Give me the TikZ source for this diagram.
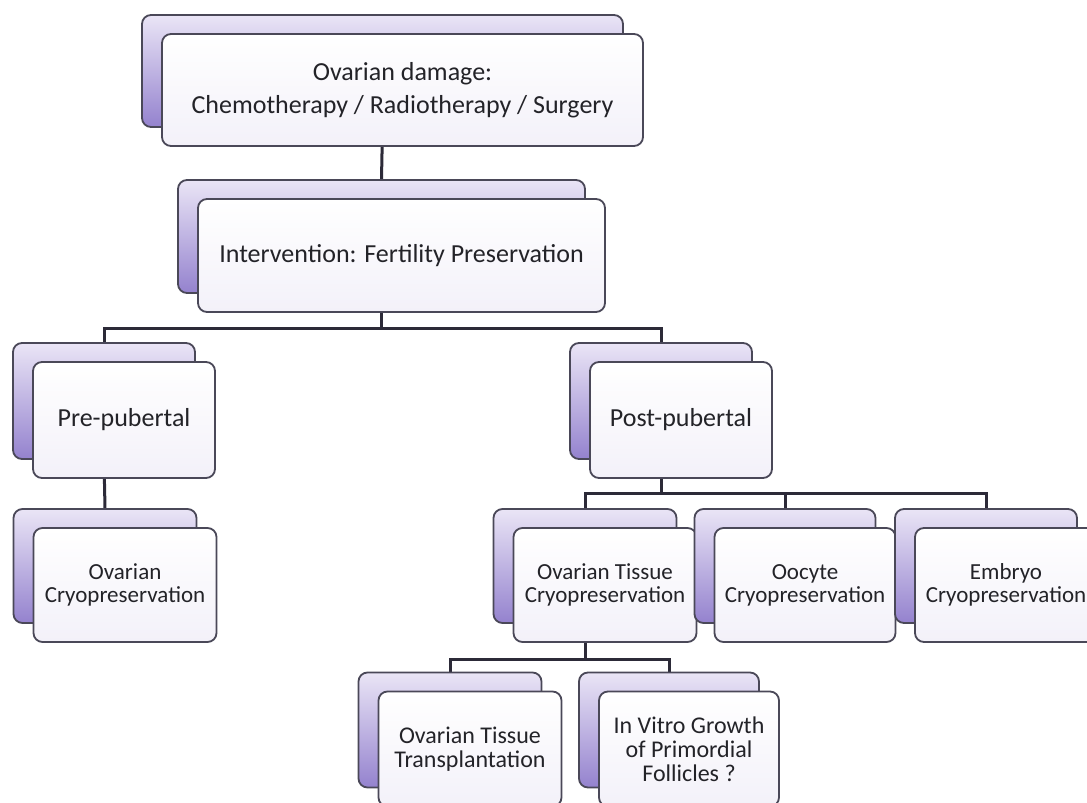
\documentclass[tikz,border=0pt]{standalone}
\usepackage{fontspec}
\setmainfont{Carlito}
\usetikzlibrary{calc}
\pgfdeclarelayer{paper}
\pgfdeclarelayer{bg}
\pgfsetlayers{paper,bg,main}
\definecolor{edgecol}{RGB}{74,72,88}
\definecolor{linecol}{RGB}{44,42,56}
\definecolor{backtop}{RGB}{234,229,246}
\definecolor{backbot}{RGB}{148,130,206}
\definecolor{fronttop}{RGB}{255,255,255}
\definecolor{frontbot}{RGB}{243,241,249}
\definecolor{txtcol}{RGB}{35,35,40}
\tikzset{
  backbox/.style={draw=edgecol, line width=1.8pt, rounded corners=9pt,
    top color=backtop, bottom color=backbot, inner sep=0pt},
  frontbox/.style={draw=edgecol, line width=1.8pt, rounded corners=9pt,
    top color=fronttop, bottom color=frontbot, inner sep=0pt,
    text=txtcol, align=center},
  conn/.style={draw=linecol, line width=3pt},
  bigtxt/.style={font=\fontsize{26}{33}\selectfont},
  midtxt/.style={font=\fontsize{26}{30}\selectfont},
  smalltxt/.style={font=\fontsize{23}{23}\selectfont},
  lowtxt/.style={font=\fontsize{24}{24}\selectfont},
}
% #1 name, #2 x, #3 y (back box centre), #4 width, #5 height, #6 text style, #7 text
\newcommand\twinbox[7]{%
  \node[backbox, minimum width=#4pt, minimum height=#5pt] (#1b) at (#2,#3) {};
  \node[frontbox, #6, minimum width=#4pt, minimum height=#5pt] (#1) at ($(#1b)+(20,19)$) {#7};
}
\begin{document}
\begin{tikzpicture}[x=1pt,y=-1pt]
\useasboundingbox (0,0) rectangle (1087,803);
\begin{pgfonlayer}{paper}
\fill[white] (0,0) rectangle (1087,803);
\end{pgfonlayer}

\twinbox{top}{382.5}{71}{481}{112}{bigtxt}{Ovarian damage:\\Chemotherapy / Radiotherapy / Surgery}
\twinbox{inter}{381.5}{236.5}{407}{113}{midtxt}{Intervention: Fertility Preservation}
\twinbox{pre}{104}{401}{182}{116}{bigtxt}{Pre-pubertal}
\twinbox{post}{661}{401}{182}{116}{bigtxt}{Post-pubertal}
\twinbox{ocryo}{105}{566}{183}{114}{smalltxt}{Ovarian\\Cryopreservation}
\twinbox{otc}{585}{566}{183}{114}{smalltxt}{Ovarian Tissue\\Cryopreservation}
\twinbox{oocyte}{785}{566}{181}{114}{smalltxt}{Oocyte\\Cryopreservation}
\twinbox{embryo}{986}{566}{182}{114}{smalltxt}{Embryo\\Cryopreservation}
\twinbox{transp}{450}{730}{183}{115}{lowtxt}{Ovarian Tissue\\Transplantation}
\twinbox{ivg}{669}{730}{180}{115}{lowtxt}{In Vitro Growth\\of Primordial\\Follicles ?}

\coordinate (j1) at (381.5,328);
\coordinate (j2) at (661,493);
\coordinate (j3) at (585,659);

\begin{pgfonlayer}{bg}
\draw[conn] (topb.south) -- (interb.north);
\draw[conn] (interb.south) -- (j1);
\draw[conn] (preb.north) -- (preb.north |- j1) -- (postb.north |- j1) -- (postb.north);
\draw[conn] (preb.south) -- (ocryob.north);
\draw[conn] (postb.south) -- (j2);
\draw[conn] (otcb.north) -- (otcb.north |- j2) -- (embryob.north |- j2) -- (embryob.north);
\draw[conn] (oocyteb.north) -- (oocyteb.north |- j2);
\draw[conn] (otcb.south) -- (j3);
\draw[conn] (transpb.north) -- (transpb.north |- j3) -- (ivgb.north |- j3) -- (ivgb.north);
\end{pgfonlayer}
\end{tikzpicture}
\end{document}
